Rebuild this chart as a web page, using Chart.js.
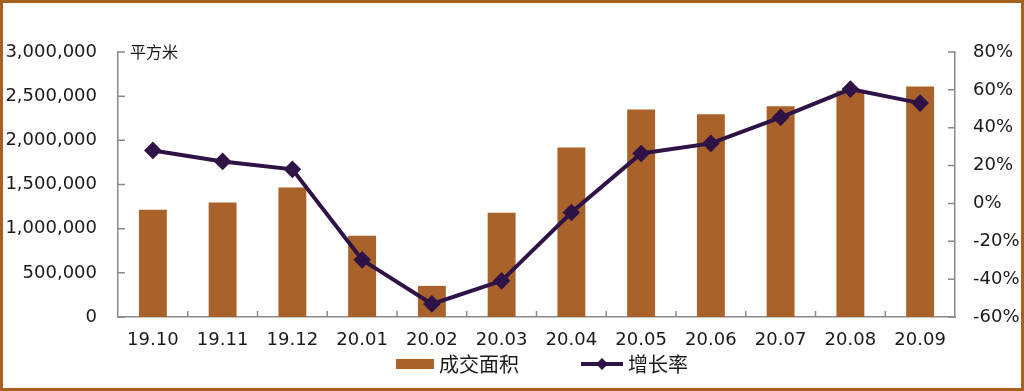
<!DOCTYPE html>
<html lang="zh">
<head>
    <meta charset="UTF-8">
    <title>成交面积与增长率</title>
    <script src="https://cdn.jsdelivr.net/npm/chart.js"></script>
    <style>
        body {
            margin: 0;
            background: #fff;
        }
        .frame {
            width: 1024px;
            height: 391px;
            box-sizing: border-box;
            border: 3px solid #A8601E;
            background: #fff;
        }
        canvas {
            display: block;
        }
    </style>
</head>
<body>
    <div class="frame">
        <canvas id="areaChart" width="1018" height="385"></canvas>
    </div>

    <script>
        // data
        const months = ['19.10', '19.11', '19.12', '20.01', '20.02', '20.03', '20.04', '20.05', '20.06', '20.07', '20.08', '20.09'];
        const dealArea = [1215000, 1295000, 1465000, 920000, 352000, 1180000, 1920000, 2350000, 2295000, 2385000, 2560000, 2610000];
        const growthRate = [0.28, 0.222, 0.18, -0.298, -0.531, -0.409, -0.048, 0.264, 0.317, 0.455, 0.604, 0.53];

        const barColor = '#A9632A';
        const lineColor = '#2F1347';
        const axisColor = '#8A8A8A';
        const textColor = '#1a1a1a';
        const latinFont = "'DejaVu Sans', sans-serif";
        const cjkFont = "'Noto Sans CJK SC', sans-serif";

        // legend swatches: wide transparent canvases so the two entries sit apart,
        // the visible mark is drawn at the right end, next to its text
        const SWATCH_W = 103;
        function barSwatch() {
            const c = document.createElement('canvas');
            c.width = SWATCH_W; c.height = 14;
            const g = c.getContext('2d');
            g.fillStyle = barColor;
            g.fillRect(SWATCH_W - 38, 2, 38, 10);
            return c;
        }
        function lineSwatch() {
            const c = document.createElement('canvas');
            c.width = SWATCH_W; c.height = 14;
            const g = c.getContext('2d');
            const x0 = SWATCH_W - 42;
            g.strokeStyle = lineColor;
            g.lineWidth = 4;
            g.beginPath();
            g.moveTo(x0, 7); g.lineTo(SWATCH_W, 7);
            g.stroke();
            g.fillStyle = lineColor;
            g.beginPath();
            g.moveTo(x0 + 21, 1); g.lineTo(x0 + 27, 7); g.lineTo(x0 + 21, 13); g.lineTo(x0 + 15, 7);
            g.closePath();
            g.fill();
            return c;
        }

        // inward tick marks and the unit label
        const tickMarks = {
            id: 'tickMarks',
            afterDatasetsDraw(chart) {
                const ctx = chart.ctx;
                const area = chart.chartArea;
                const yL = chart.scales.y;
                const yR = chart.scales.y1;
                const x = chart.scales.x;
                ctx.save();
                ctx.strokeStyle = axisColor;
                ctx.lineWidth = 1.5;
                ctx.beginPath();
                yL.ticks.forEach(t => {
                    const py = yL.getPixelForValue(t.value);
                    ctx.moveTo(area.left, py); ctx.lineTo(area.left + 7, py);
                });
                yR.ticks.forEach(t => {
                    const py = yR.getPixelForValue(t.value);
                    ctx.moveTo(area.right - 7, py); ctx.lineTo(area.right, py);
                });
                for (let i = 1; i < months.length; i++) {
                    const px = (x.getPixelForTick(i - 1) + x.getPixelForTick(i)) / 2;
                    ctx.moveTo(px, area.bottom - 6); ctx.lineTo(px, area.bottom);
                }
                ctx.stroke();

                ctx.fillStyle = textColor;
                ctx.font = '16px ' + cjkFont;
                ctx.textAlign = 'left';
                ctx.textBaseline = 'middle';
                ctx.fillText('平方米', area.left + 12, area.top);
                ctx.restore();
            }
        };

        new Chart(document.getElementById('areaChart'), {
            type: 'bar',
            data: {
                labels: months,
                datasets: [
                    {
                        type: 'line',
                        label: '增长率',
                        data: growthRate,
                        yAxisID: 'y1',
                        borderColor: lineColor,
                        backgroundColor: lineColor,
                        borderWidth: 4,
                        pointStyle: 'rectRot',
                        pointRadius: 6,
                        pointBackgroundColor: lineColor,
                        pointBorderColor: lineColor,
                        tension: 0,
                        order: 0
                    },
                    {
                        type: 'bar',
                        label: '成交面积',
                        data: dealArea,
                        yAxisID: 'y',
                        backgroundColor: barColor,
                        barPercentage: 0.4,
                        categoryPercentage: 1,
                        order: 1
                    }
                ]
            },
            options: {
                responsive: false,
                animation: false,
                layout: { padding: { top: 49, left: 0, right: 0, bottom: 4 } },
                plugins: {
                    tooltip: { enabled: false },
                    legend: {
                        position: 'bottom',
                        labels: {
                            usePointStyle: true,
                            pointStyleWidth: SWATCH_W - 10,
                            padding: 6,
                            color: textColor,
                            font: { family: cjkFont, size: 20 },
                            generateLabels: () => [
                                { text: '成交面积', pointStyle: barSwatch(), datasetIndex: 1, fontColor: textColor, lineWidth: 0 },
                                { text: '增长率', pointStyle: lineSwatch(), datasetIndex: 0, fontColor: textColor, lineWidth: 0 }
                            ]
                        }
                    }
                },
                scales: {
                    x: {
                        grid: { display: false, drawTicks: false },
                        border: { display: true, color: axisColor, width: 1.5 },
                        ticks: { color: textColor, font: { family: latinFont, size: 18 }, padding: 13, maxRotation: 0 },
                        afterFit: s => { s.height = 31; }
                    },
                    y: {
                        position: 'left',
                        min: 0,
                        max: 3000000,
                        grid: { display: false, drawTicks: false },
                        border: { display: true, color: axisColor, width: 1.5 },
                        ticks: {
                            stepSize: 500000,
                            color: textColor,
                            padding: 21,
                            font: { family: latinFont, size: 18 },
                            callback: v => v.toLocaleString('en-US')
                        },
                        afterFit: s => { s.width = 115; }
                    },
                    y1: {
                        position: 'right',
                        min: -0.6,
                        max: 0.8,
                        grid: { display: false, drawTicks: false },
                        border: { display: true, color: axisColor, width: 1.5 },
                        ticks: {
                            stepSize: 0.2,
                            color: textColor,
                            padding: 18,
                            font: { family: latinFont, size: 18 },
                            callback: v => Math.round(v * 100) + '%'
                        },
                        afterFit: s => { s.width = 66; }
                    }
                }
            },
            plugins: [tickMarks]
        });
    </script>
</body>
</html>
